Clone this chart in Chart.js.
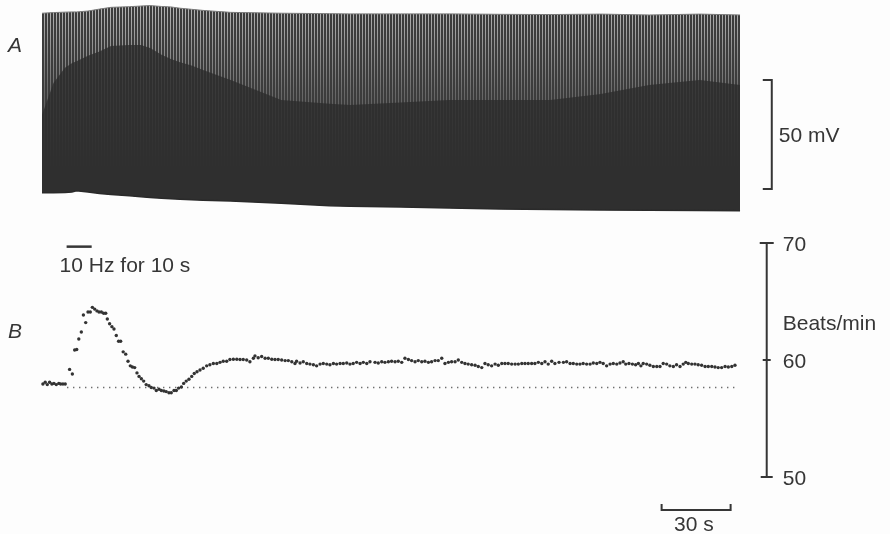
<!DOCTYPE html>
<html>
<head>
<meta charset="utf-8">
<script src="https://cdn.jsdelivr.net/npm/chart.js@4.4.1/dist/chart.umd.min.js"></script>
<style>
  body { margin: 0; background: #fdfdfd; }
  #wrap { width: 890px; height: 534px; position: relative; }
</style>
</head>
<body>
<div id="wrap"><canvas id="trace"></canvas></div>
<script>
// Panel A: envelope of the membrane potential record (time in s, mV)
const envTime   = [0, 5, 10, 13, 15, 20, 25, 30, 38, 43, 47, 52, 56, 60, 65, 70, 82, 104, 125, 134, 156, 177, 199, 221, 243, 264, 286, 303.5];
const envTop    = [22.0, 22.3, 22.5, 22.6, 22.6, 23.0, 23.9, 24.7, 25.0, 25.3, 25.5, 25.1, 24.9, 24.3, 23.8, 23.3, 22.4, 22.0, 21.8, 21.7, 21.7, 21.7, 21.5, 21.4, 21.6, 21.2, 21.6, 21.2];
const envDense  = [-24.7, -10, -3, -1, 0, 2.5, 4.5, 7, 7.4, 7.4, 6, 3, 1, -0.5, -2, -4, -8.6, -17.8, -19.5, -20.1, -19, -17.8, -17.8, -17.8, -15, -10.9, -8.6, -10.9];
const envBottom = [-60.3, -60.3, -60.2, -60.0, -59.4, -60.0, -60.7, -61.1, -61.7, -62.2, -62.5, -62.9, -63.1, -63.3, -63.6, -63.8, -64.1, -65.2, -66.3, -66.5, -66.9, -67.4, -67.8, -68.0, -68.3, -68.4, -68.5, -68.6];

// Panel B: heart rate (time in s, beats/min)
const rateTime = [
  0.4, 1.4, 2.3, 3.3, 4.3, 5.2, 6.2, 7.3, 8.1, 9.1, 10.1,
  12.0, 13.2, 14.2, 15.1, 16.0, 17.1, 18.0, 19.0, 20.0, 21.0,
  21.9, 22.9, 23.9, 24.8, 25.8, 26.8, 27.7, 28.4, 29.4, 30.4,
  31.3, 32.3, 33.3, 34.2, 35.3, 36.4, 37.4, 38.4, 39.3, 40.3,
  41.3, 42.2, 43.2, 44.2, 45.3, 46.5, 47.5, 48.7, 49.7, 50.9,
  51.9, 53.0, 54.0, 55.2, 56.2, 57.4, 58.4, 59.4, 60.6, 61.6,
  62.7,
  63.9, 65.1, 66.2, 67.4, 68.7, 70.1, 71.6, 73.0, 74.5, 76.0,
  77.4, 78.8, 80.3, 81.7, 83.2, 84.7, 86.1, 87.5, 89.0, 90.4,
  91.9, 92.6, 94.0, 95.5, 97.0, 98.4, 99.9, 101.3, 102.7, 104.2,
  105.7, 107.1, 108.6, 110.0, 110.7, 112.2, 113.6, 115.1, 116.5, 118.0,
  119.4, 120.9, 122.3, 123.8, 125.2, 126.7, 128.1, 129.6, 131.0, 132.5,
  133.9, 135.3, 136.8, 138.3, 139.7, 141.2, 142.6,
  144.8, 146.2, 147.7, 149.1, 150.6, 152.0, 153.5, 154.9, 156.4, 157.8,
  159.3, 160.7, 162.2, 163.6, 165.1, 166.5, 168.0, 169.4, 170.9, 172.3,
  173.8, 175.2, 176.7, 178.1, 179.6, 181.0, 182.5, 183.9, 185.3, 186.8,
  188.3, 189.7, 191.2, 192.6, 194.0, 195.5, 197.0, 198.4, 199.9, 201.3,
  202.7, 204.2, 205.7, 207.1, 208.6, 210.0, 211.4, 212.9, 214.3, 215.8,
  217.3, 218.7, 220.1, 221.6, 223.0,
  224.8, 226.7, 228.1, 229.6, 231.0, 232.5, 233.9, 235.3, 236.8, 238.3,
  239.7, 241.2, 242.6, 244.0, 245.5, 247.0, 248.4, 249.9, 251.3, 252.7,
  253.8, 255.2, 256.7, 258.1, 259.3, 260.4, 261.4, 262.9, 264.3, 265.8,
  267.3, 268.7, 270.1, 271.6, 273.0, 274.5, 275.9, 277.4, 278.8, 279.9,
  281.0, 282.5, 283.9, 285.3, 286.8, 288.3, 289.7, 291.2, 292.6, 294.0,
  295.5, 297.0, 298.4, 299.9, 301.3
];
const rateBpm = [
  57.95, 58.1, 57.9, 58.1, 57.95, 58.0, 57.9, 58.0, 57.95, 57.95, 57.95,
  59.2, 58.8, 60.85, 60.9, 61.8, 62.4, 63.85, 63.2, 64.1, 64.1,
  64.5, 64.35, 64.2, 64.1, 64.1, 64.0, 64.0, 63.5, 63.1, 62.85,
  62.65, 62.1, 61.6, 61.6, 60.7, 60.5, 59.9, 59.5, 59.4, 59.35,
  58.9, 58.6, 58.4, 58.2, 57.9, 57.8, 57.65, 57.6, 57.4, 57.5,
  57.4, 57.35, 57.3, 57.2, 57.2, 57.4, 57.4, 57.6, 57.7, 58.0,
  58.2,
  58.35, 58.6, 58.85, 59.0, 59.15, 59.3, 59.5, 59.6, 59.7, 59.7,
  59.8, 59.9, 59.9, 60.05, 60.07, 60.07, 60.05, 60.05, 60.0, 59.85,
  60.15, 60.35, 60.2, 60.3, 60.15, 60.15, 60.07, 60.05, 60.05, 60.0,
  59.95, 59.95, 59.85, 59.7, 59.9, 59.75, 59.85, 59.7, 59.65, 59.6,
  59.5, 59.65, 59.7, 59.65, 59.6, 59.7, 59.65, 59.7, 59.7, 59.75,
  59.65, 59.7, 59.8, 59.7, 59.8, 59.7, 59.85,
  59.8, 59.75, 59.85, 59.8, 59.85, 59.9, 59.85, 59.9, 59.8, 60.15,
  60.05, 59.95, 59.85, 59.95, 59.85, 59.9, 59.8, 59.85, 59.95, 59.95,
  60.15, 59.7, 59.8, 59.85, 59.85, 60.0, 59.8, 59.7, 59.65, 59.6,
  59.55, 59.45, 59.35, 59.7, 59.6, 59.5, 59.65, 59.55, 59.7, 59.7,
  59.7, 59.65, 59.65, 59.65, 59.7, 59.7, 59.7, 59.7, 59.7, 59.8,
  59.7, 59.85, 59.65, 59.9, 59.7,
  59.8, 59.8, 59.85, 59.7, 59.7, 59.65, 59.65, 59.7, 59.65, 59.65,
  59.75, 59.7, 59.8, 59.7, 59.5, 59.65, 59.7, 59.65, 59.75, 59.85,
  59.65, 59.7, 59.65, 59.6, 59.7, 59.5, 59.7, 59.65, 59.55, 59.45,
  59.45, 59.45, 59.7, 59.65, 59.5, 59.45, 59.6, 59.45, 59.65, 59.8,
  59.7, 59.65, 59.65, 59.6, 59.55, 59.45, 59.45, 59.45, 59.4, 59.35,
  59.35, 59.45, 59.4, 59.45, 59.55
];
const baselineBpm = 57.65;           // pre-stimulus level (dotted line)
const baselineSpan = [10.9, 302.2];

// scale bars and markers
const stimSpan = [10.7, 21.6];       // 10 Hz for 10 s
const stimLevel = 69.69;             // bpm axis, just above the label
const timeBar = [269.4, 299.4];      // 30 s
const timeBarLevel = 47.18;
const mVBar = [-58.6, -8.6];         // 50 mV
const mVBarTime = 317.3;
const bpmTicks = [50, 60, 70];
const bpmBarTime = 315.1;

const canvas = document.getElementById('trace');
const ink = '#363636';

// vertical stripe texture for the spike region of panel A
function stripePattern() {
  const c = document.createElement('canvas');
  c.width = 3;
  c.height = 534;
  const g = c.getContext('2d');
  g.fillStyle = '#3c3c3c';
  g.fillRect(0, 0, 3, 534);
  const grad = g.createLinearGradient(0, 0, 0, 170);
  grad.addColorStop(0, '#bcbcbc');
  grad.addColorStop(0.12, '#a8a8a8');
  grad.addColorStop(0.55, '#686868');
  grad.addColorStop(1, '#3c3c3c');
  g.fillStyle = grad;
  g.fillRect(2, 0, 1, 534);
  return canvas.getContext('2d').createPattern(c, 'repeat');
}

const pts = (xs, ys) => xs.map((t, i) => ({ x: t, y: ys[i] }));

// scale bars and text drawn through the chart scales
const annotations = {
  id: 'annotations',
  afterDatasetsDraw(chart) {
    const { ctx, scales: { x, yA, yB } } = chart;
    ctx.save();
    ctx.strokeStyle = ink;
    ctx.fillStyle = ink;
    ctx.lineWidth = 2;
    ctx.lineCap = 'butt';

    // 50 mV bar
    const mx = x.getPixelForValue(mVBarTime);
    const m0 = yA.getPixelForValue(mVBar[0]);
    const m1 = yA.getPixelForValue(mVBar[1]);
    ctx.beginPath();
    ctx.moveTo(mx - 9, m1); ctx.lineTo(mx, m1); ctx.lineTo(mx, m0); ctx.lineTo(mx - 9, m0);
    ctx.stroke();

    // beats/min bar
    const bx = x.getPixelForValue(bpmBarTime);
    const b50 = yB.getPixelForValue(bpmTicks[0]);
    const b70 = yB.getPixelForValue(bpmTicks[2]);
    ctx.beginPath();
    ctx.moveTo(bx, b70); ctx.lineTo(bx, b50);
    const tickHalf = [6, 4, 7];
    bpmTicks.forEach((v, i) => {
      const py = yB.getPixelForValue(v);
      ctx.moveTo(bx - tickHalf[i], py); ctx.lineTo(bx + tickHalf[i], py);
    });
    ctx.stroke();

    // 30 s bar
    const t0 = x.getPixelForValue(timeBar[0]);
    const t1 = x.getPixelForValue(timeBar[1]);
    const ty = yB.getPixelForValue(timeBarLevel);
    ctx.beginPath();
    ctx.moveTo(t0, ty - 6); ctx.lineTo(t0, ty); ctx.lineTo(t1, ty); ctx.lineTo(t1, ty - 6);
    ctx.stroke();

    // stimulus bar
    ctx.lineWidth = 2.5;
    const sy = yB.getPixelForValue(stimLevel);
    ctx.beginPath();
    ctx.moveTo(x.getPixelForValue(stimSpan[0]), sy);
    ctx.lineTo(x.getPixelForValue(stimSpan[1]), sy);
    ctx.stroke();

    // text
    ctx.textBaseline = 'alphabetic';
    ctx.textAlign = 'left';
    ctx.font = '21px "Liberation Sans", Arial, sans-serif';
    ctx.fillText('50 mV', mx + 7, (m0 + m1) / 2 + 8);
    bpmTicks.forEach(v => {
      ctx.fillText(String(v), bx + 16, yB.getPixelForValue(v) + 8);
    });
    ctx.fillText('Beats/min', bx + 16, yB.getPixelForValue(62.6));
    ctx.fillText('30 s', (t0 + t1) / 2 - 22, ty + 21);
    ctx.fillText('10 Hz for 10 s', x.getPixelForValue(stimSpan[0]) - 7, sy + 25);

    ctx.font = 'italic 21px "Liberation Sans", Arial, sans-serif';
    ctx.fillText('A', 8, 52);
    ctx.fillText('B', 8, 338);
    ctx.restore();
  }
};

new Chart(canvas, {
  type: 'line',
  data: {
    datasets: [
      {
        data: pts(rateTime, rateBpm),
        yAxisID: 'yB',
        showLine: false,
        pointRadius: 1.7,
        pointBorderWidth: 0,
        pointBackgroundColor: '#333333'
      },
      {
        data: [{ x: baselineSpan[0], y: baselineBpm }, { x: baselineSpan[1], y: baselineBpm }],
        yAxisID: 'yB',
        borderColor: '#666666',
        borderWidth: 1.3,
        borderDash: [1.3, 4.7],
        pointRadius: 0
      },
      {
        data: pts(envTime, envDense),
        yAxisID: 'yA',
        fill: 4,
        backgroundColor: 'rgba(44, 44, 44, 0.78)',
        borderWidth: 0,
        pointRadius: 0
      },
      {
        data: pts(envTime, envTop),
        yAxisID: 'yA',
        fill: 4,
        backgroundColor: stripePattern(),
        borderColor: '#7a7a7a',
        borderWidth: 1,
        pointRadius: 0
      },
      {
        data: pts(envTime, envBottom),
        yAxisID: 'yA',
        borderColor: '#2a2a2a',
        borderWidth: 1.5,
        pointRadius: 0
      }
    ]
  },
  options: {
    responsive: true,
    maintainAspectRatio: false,
    animation: false,
    layout: { padding: 0, autoPadding: false },
    scales: {
      x: { type: 'linear', min: -18.26, max: 368.7, display: false },
      yA: { type: 'linear', min: -216.9, max: 28.07, display: false },
      yB: { type: 'linear', min: 45.13, max: 90.77, display: false }
    },
    plugins: {
      legend: { display: false },
      tooltip: { enabled: false },
      filler: { drawTime: 'beforeDatasetsDraw' }
    }
  },
  plugins: [annotations]
});
</script>
</body>
</html>
